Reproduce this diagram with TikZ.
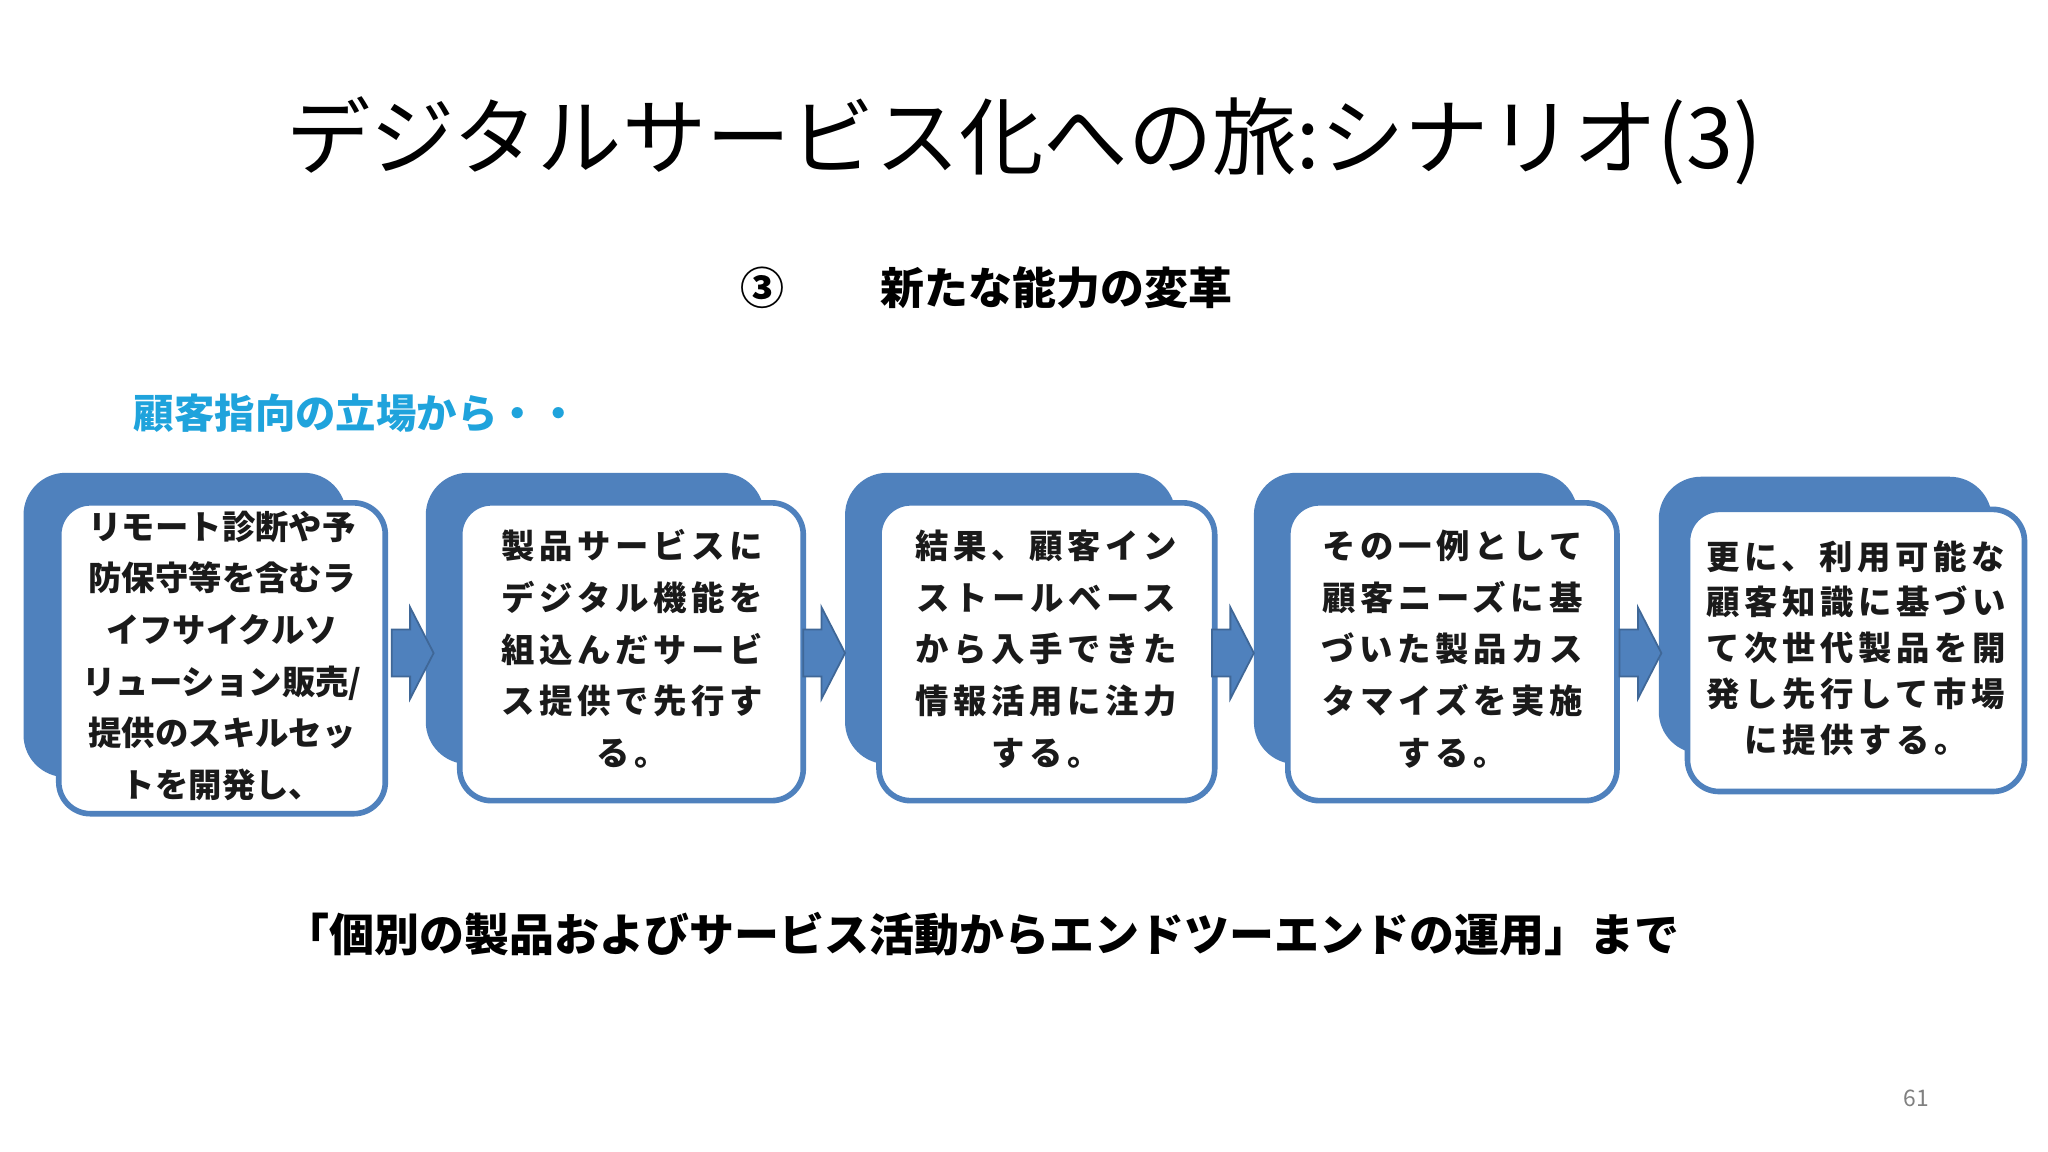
\documentclass[tikz,border=0pt]{standalone}
\usepackage{fontspec}
\setmainfont{Noto Sans CJK JP}
\newfontfamily\jpb[BoldFont={Noto Sans CJK JP Bold}]{Noto Sans CJK JP}
\definecolor{bblue}{HTML}{4F81BD}
\definecolor{cyanlab}{HTML}{1FA3DC}
\definecolor{txt}{HTML}{1A1A1A}
\begin{document}
\begin{tikzpicture}[x=0.013061cm,y=-0.013061cm,
  back/.style={fill=bblue,rounded corners=12pt},
  front/.style={draw=bblue,line width=1.6pt,fill=white,rounded corners=9pt},
  btxt/.style={font=\bfseries\fontsize{9.5}{14.7}\selectfont,text=txt,align=center,inner sep=0pt},
  btxtw/.style={font=\bfseries\fontsize{9.5}{14.7}\selectfont\addfontfeature{LetterSpace=14},text=txt,align=center,inner sep=0pt},
  arr/.style={fill=bblue,draw=bblue!80!black,line width=0.5pt}]
\useasboundingbox (0,0) rectangle (1568,882);
\fill[white] (0,0) rectangle (1568,882);
\node[font=\fontsize{24}{28}\selectfont,text=black] (title) at (784,108) {デジタルサービス化への旅:シナリオ(3)};
\node[font=\bfseries\fontsize{12.5}{15}\selectfont] (sub) at (755,220) {③\hspace{2.2em}新たな能力の変革};
\node[font=\bfseries\fontsize{11.5}{14}\selectfont,text=cyanlab,anchor=west] (lab) at (93,316) {顧客指向の立場から・・};
% boxes
\fill[back] (18,362) rectangle (265,595);
\draw[front] (45,385) rectangle (295,623);
\node[btxt] (t1) at (170,502) {リモート診断や予\\防保守等を含むラ\\イフサイクルソ\\リューション販売/\\提供のスキルセッ\\トを開発し、};
\fill[back] (326,362) rectangle (585,585);
\draw[front] (352,385) rectangle (615,613);
\node[btxtw] (t2) at (484,497) {製品サービスに\\デジタル機能を\\組込んだサービ\\ス提供で先行す\\る。};
\fill[back] (647,362) rectangle (900,585);
\draw[front] (673,385) rectangle (930,613);
\node[btxtw] (t3) at (801,497) {結果、顧客イン\\ストールベース\\から入手できた\\情報活用に注力\\する。};
\fill[back] (960,362) rectangle (1208,585);
\draw[front] (986,385) rectangle (1238,613);
\node[btxtw] (t4) at (1112,497) {その一例として\\顧客ニーズに基\\づいた製品カス\\タマイズを実施\\する。};
\fill[back] (1270,365) rectangle (1525,577);
\draw[front] (1292,390) rectangle (1550,606);
\node[btxtw,font=\bfseries\fontsize{9.5}{13}\selectfont\addfontfeature{LetterSpace=14}] (t5) at (1421,496) {更に、利用可能な\\顧客知識に基づい\\て次世代製品を開\\発し先行して市場\\に提供する。};
% arrows
\foreach \x in {300,615,928,1240}{
  \filldraw[arr] (\x,482) -- (\x+14,482) -- (\x+14,465) -- (\x+32,500) -- (\x+14,535) -- (\x+14,518) -- (\x,518) -- cycle;
}
\node[font=\bfseries\fontsize{12.8}{15}\selectfont] (bot) at (752,715) {「個別の製品およびサービス活動からエンドツーエンドの運用」まで};
\node[font=\fontsize{6.5}{8}\selectfont,text=gray] (pg) at (1467,841) {61};
\end{tikzpicture}
\end{document}
